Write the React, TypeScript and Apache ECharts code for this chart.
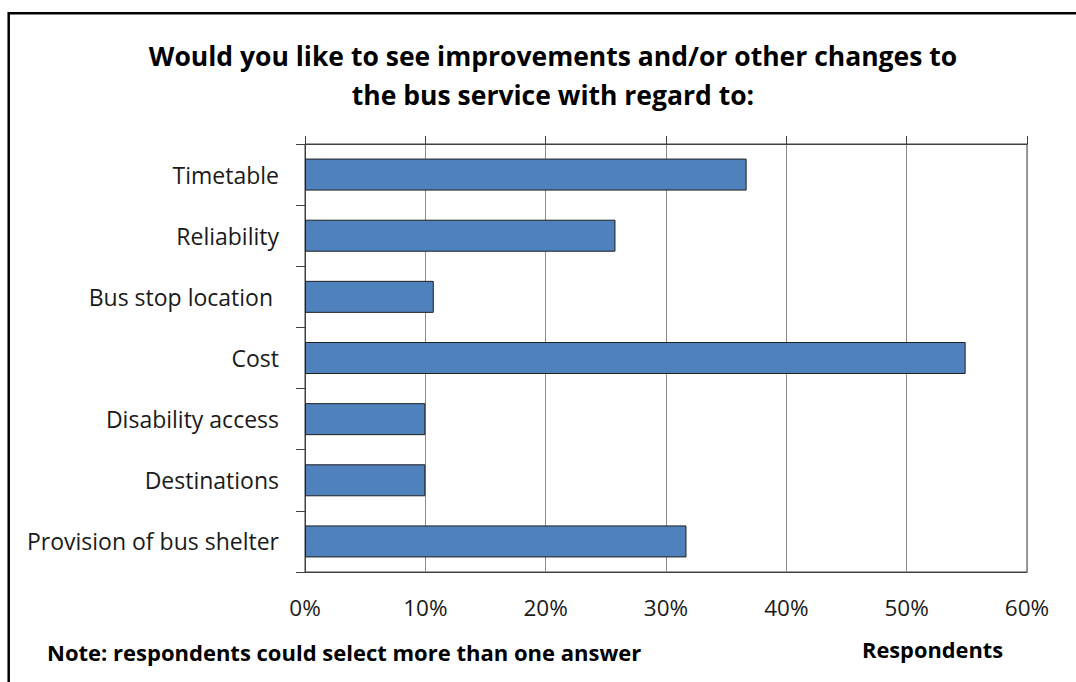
import React, { useEffect, useRef } from "react";
import * as echarts from "echarts";

const categories = [
  "Timetable",
  "Reliability",
  "Bus stop location ",
  "Cost",
  "Disability access",
  "Destinations",
  "Provision of bus shelter",
];
const values = [36.7, 25.8, 10.7, 54.9, 10.0, 10.0, 31.7];
const titleText =
  "Would you like to see improvements and/or other changes to\nthe bus service with regard to:";
const noteText = "Note: respondents could select more than one answer";
const axisName = "Respondents";
const xMin = 0;
const xMax = 60;
const xStep = 10;

const FONT = "'Open Sans', 'Noto Sans', sans-serif";

export default function App() {
  const ref = useRef<HTMLDivElement>(null);
  useEffect(() => {
    if (!ref.current) return;
    const chart = echarts.init(ref.current, undefined, { renderer: "svg" });
    chart.setOption({
      animation: false,
      backgroundColor: "#ffffff",
      textStyle: { fontFamily: FONT },
      title: {
        text: titleText,
        left: 553,
        textAlign: "center",
        top: 36,
        padding: 0,
        textStyle: {
          fontFamily: FONT,
          fontSize: 26.5,
          fontWeight: "bold",
          color: "#000",
          lineHeight: 39,
        },
      },
      grid: {
        left: 305,
        right: 49,
        top: 144,
        bottom: 110,
        show: true,
        borderColor: "#404040",
        borderWidth: 1,
        containLabel: false,
      },
      xAxis: [
        {
          type: "value",
          position: "bottom",
          min: xMin,
          max: xMax,
          interval: xStep,
          axisLine: { show: true, lineStyle: { color: "#404040", width: 1 } },
          axisTick: { show: false },
          splitLine: { show: true, lineStyle: { color: "#8c8c8c", width: 1 } },
          axisLabel: {
            formatter: "{value}%",
            fontFamily: FONT,
            fontSize: 22.5,
            color: "#1a1a1a",
            margin: 24,
          },
        },
        {
          type: "value",
          position: "top",
          min: xMin,
          max: xMax,
          interval: xStep,
          axisLine: { show: true, lineStyle: { color: "#404040", width: 1 } },
          axisTick: { show: true, length: 8, lineStyle: { color: "#404040" } },
          splitLine: { show: false },
          axisLabel: { show: false },
        },
      ],
      yAxis: {
        type: "category",
        data: categories,
        inverse: true,
        axisLine: { show: true, lineStyle: { color: "#404040", width: 1 } },
        axisTick: { show: true, length: 9, lineStyle: { color: "#404040" } },
        axisLabel: {
          fontFamily: FONT,
          fontSize: 23,
          color: "#1a1a1a",
          margin: 26,
        },
      },
      series: [
        {
          type: "bar",
          xAxisIndex: 0,
          data: values,
          barWidth: 32,
          itemStyle: { color: "#4F81BD", borderColor: "#1f1f1f", borderWidth: 1 },
        },
      ],
      graphic: [
        {
          type: "rect",
          shape: { x: 8.7, y: 13.3, width: 1200, height: 800 },
          style: { fill: "none", stroke: "#000", lineWidth: 2.5 },
          silent: true,
        },
        {
          type: "text",
          x: 47,
          y: 652,
          style: {
            text: noteText,
            fontFamily: FONT,
            fontSize: 22,
            fontWeight: "bold",
            fill: "#000",
            textVerticalAlign: "middle",
          },
        },
        {
          type: "text",
          x: 862,
          y: 649,
          style: {
            text: axisName,
            fontFamily: FONT,
            fontSize: 21.8,
            fontWeight: "bold",
            fill: "#000",
            textVerticalAlign: "middle",
          },
        },
      ],
    });
    return () => chart.dispose();
  }, []);
  return (
    <div
      ref={ref}
      style={{ position: "fixed", left: 0, top: 0, width: 1076, height: 682 }}
    />
  );
}
